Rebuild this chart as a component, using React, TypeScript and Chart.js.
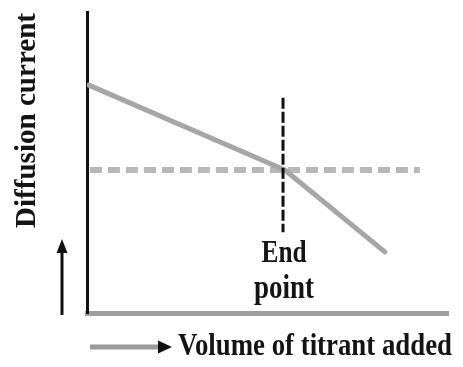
import React, { useEffect, useRef } from "react";
import { Chart, registerables } from "chart.js";

Chart.register(...registerables);

// Curve data (arbitrary units, 0-100 on both axes)
const curveX = [0.5, 54.8, 82.5];
const curveY = [75.7, 47.5, 20.3];
// Horizontal dashed reference line
const hLineX = [0.8, 92.2];
const hLineY = [47.5, 47.5];
// Vertical end point marker
const endPointX = [54.3, 54.3];
const endPointY = [71.5, 26.8];

const yLabel = "Diffusion current";
const xLabel = "Volume of titrant added";
const endLabel = ["End", "point"];

const FONT = "'Liberation Serif', 'DejaVu Serif', serif";

function fitText(
  ctx: CanvasRenderingContext2D,
  text: string,
  x: number,
  y: number,
  width: number,
  size: number,
  rotate = 0
) {
  ctx.save();
  ctx.font = `bold ${size}px ${FONT}`;
  ctx.fillStyle = "#141414";
  ctx.textAlign = "center";
  ctx.textBaseline = "alphabetic";
  const w = ctx.measureText(text).width;
  ctx.translate(x, y);
  if (rotate) ctx.rotate(rotate);
  ctx.scale(width / w, 1);
  ctx.fillText(text, 0, 0);
  ctx.restore();
}

const annotations = {
  id: "annotations",
  afterDraw(chart: any) {
    const ctx: CanvasRenderingContext2D = chart.ctx;
    const xs = chart.scales.x;
    const ex = xs.getPixelForValue(endPointX[0]);
    // End point label
    fitText(ctx, endLabel[0], ex + 1, 262, 45, 32);
    fitText(ctx, endLabel[1], ex + 1, 298, 60, 34);
    // X axis label and arrow
    fitText(ctx, xLabel, 315, 355, 274, 31);
    ctx.save();
    ctx.strokeStyle = "#9a9a9a";
    ctx.lineWidth = 5;
    ctx.beginPath();
    ctx.moveTo(90, 347);
    ctx.lineTo(160, 347);
    ctx.stroke();
    ctx.fillStyle = "#111";
    ctx.beginPath();
    ctx.moveTo(172, 347);
    ctx.lineTo(158, 340.5);
    ctx.lineTo(158, 353.5);
    ctx.closePath();
    ctx.fill();
    ctx.restore();
    // Y axis label and arrow
    fitText(ctx, yLabel, 35, 120.5, 215, 30, -Math.PI / 2);
    ctx.save();
    ctx.strokeStyle = "#111";
    ctx.lineWidth = 3;
    ctx.beginPath();
    ctx.moveTo(62, 315);
    ctx.lineTo(62, 250);
    ctx.stroke();
    ctx.fillStyle = "#111";
    ctx.beginPath();
    ctx.moveTo(62, 239);
    ctx.lineTo(56.5, 253);
    ctx.lineTo(67.5, 253);
    ctx.closePath();
    ctx.fill();
    ctx.restore();
  },
};

export default function App() {
  const ref = useRef<HTMLCanvasElement>(null);
  useEffect(() => {
    if (!ref.current) return;
    const toPts = (xa: number[], ya: number[]) => xa.map((x, i) => ({ x, y: ya[i] }));
    const chart = new Chart(ref.current, {
      type: "line",
      data: {
        datasets: [
          {
            data: toPts(hLineX, hLineY),
            borderColor: "#b8b8b8",
            borderWidth: 6,
            borderDash: [12, 6],
            pointRadius: 0,
            order: 3,
          },
          {
            data: toPts(curveX, curveY),
            borderColor: "#a6a6a6",
            borderWidth: 5,
            pointRadius: 0,
            borderCapStyle: "round",
            borderJoinStyle: "round",
            order: 2,
          },
          {
            data: toPts(endPointX, endPointY),
            borderColor: "#111",
            borderWidth: 3,
            borderDash: [11, 3],
            pointRadius: 0,
            order: 1,
          },
        ],
      },
      options: {
        responsive: false,
        animation: false,
        devicePixelRatio: 1,
        layout: { padding: { left: 87, top: 12, right: 15, bottom: 54 } },
        plugins: { legend: { display: false }, tooltip: { enabled: false } },
        scales: {
          x: {
            type: "linear",
            min: 0,
            max: 100,
            ticks: { display: false },
            grid: { display: false, drawTicks: false },
            border: { display: true, color: "#9e9e9e", width: 5 },
            afterFit: (s: any) => {
              s.height = 0;
            },
          },
          y: {
            type: "linear",
            min: 0,
            max: 100,
            ticks: { display: false },
            grid: { display: false, drawTicks: false },
            border: { display: true, color: "#111", width: 3 },
            afterFit: (s: any) => {
              s.width = 0;
            },
          },
        },
      },
      plugins: [annotations],
    });
    return () => chart.destroy();
  }, []);
  return (
    <div style={{ position: "absolute", left: 0, top: 0, width: 463, height: 367, background: "#fff" }}>
      <canvas ref={ref} width={463} height={367} />
    </div>
  );
}
